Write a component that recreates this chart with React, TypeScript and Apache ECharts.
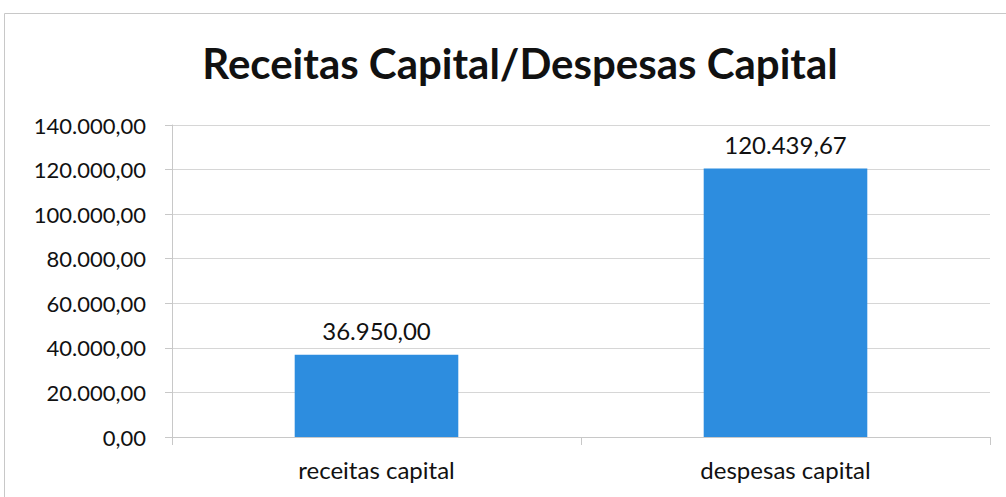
import React, { useEffect, useRef } from "react";
import * as echarts from "echarts";

const titleText = "Receitas Capital/Despesas Capital";
const categories = ["receitas capital", "despesas capital"];
const values = [36950.0, 120439.67];
const yMin = 0;
const yMax = 140000;
const yInterval = 20000;

function fmt(v: number): string {
  const fixed = Math.abs(v).toFixed(2);
  const [intPart, dec] = fixed.split(".");
  const withDots = intPart.replace(/\B(?=(\d{3})+(?!\d))/g, ".");
  return (v < 0 ? "-" : "") + withDots + "," + dec;
}

const FONT = "Lato, 'Open Sans', sans-serif";

export default function App() {
  const ref = useRef<HTMLDivElement>(null);
  useEffect(() => {
    if (!ref.current) return;
    const chart = echarts.init(ref.current, undefined, { renderer: "svg" });
    chart.setOption({
      animation: false,
      backgroundColor: "#ffffff",
      title: {
        text: titleText,
        left: 515,
        textAlign: "center",
        top: 37,
        textStyle: { fontFamily: FONT, fontWeight: "bold", fontSize: 42, color: "#111111" },
      },
      graphic: [
        {
          type: "rect",
          shape: { x: 4.5, y: 13.5, width: 1010, height: 500 },
          style: { fill: "none", stroke: "#c8c8c8", lineWidth: 1 },
          silent: true,
        },
      ],
      grid: { left: 172, right: 16, top: 125, bottom: 60, containLabel: false },
      xAxis: {
        type: "category",
        data: categories,
        axisLine: { show: true, lineStyle: { color: "#c8c8c8", width: 1 } },
        axisTick: { show: true, alignWithLabel: false, length: 8, lineStyle: { color: "#c8c8c8" } },
        axisLabel: { fontFamily: FONT, fontSize: 24, color: "#111111", margin: 20 },
      },
      yAxis: {
        type: "value",
        min: yMin,
        max: yMax,
        interval: yInterval,
        axisLine: { show: true, lineStyle: { color: "#c8c8c8", width: 1 } },
        axisTick: { show: true, length: 7, inside: false, lineStyle: { color: "#c8c8c8" } },
        splitLine: { show: true, lineStyle: { color: "#d6d6d6", width: 1 } },
        axisLabel: {
          fontFamily: FONT,
          fontSize: 22,
          color: "#111111",
          margin: 26,
          formatter: (v: number) => fmt(v),
        },
      },
      series: [
        {
          type: "bar",
          data: values,
          barWidth: "40%",
          itemStyle: { color: "#2d8ddf" },
          label: {
            show: true,
            position: "top",
            distance: 12,
            fontFamily: FONT,
            fontSize: 24,
            color: "#111111",
            formatter: (p: any) => fmt(p.value),
          },
        },
      ],
    });
    return () => chart.dispose();
  }, []);
  return (
    <div
      ref={ref}
      style={{ position: "absolute", left: 0, top: 0, width: 1006, height: 497 }}
    />
  );
}
